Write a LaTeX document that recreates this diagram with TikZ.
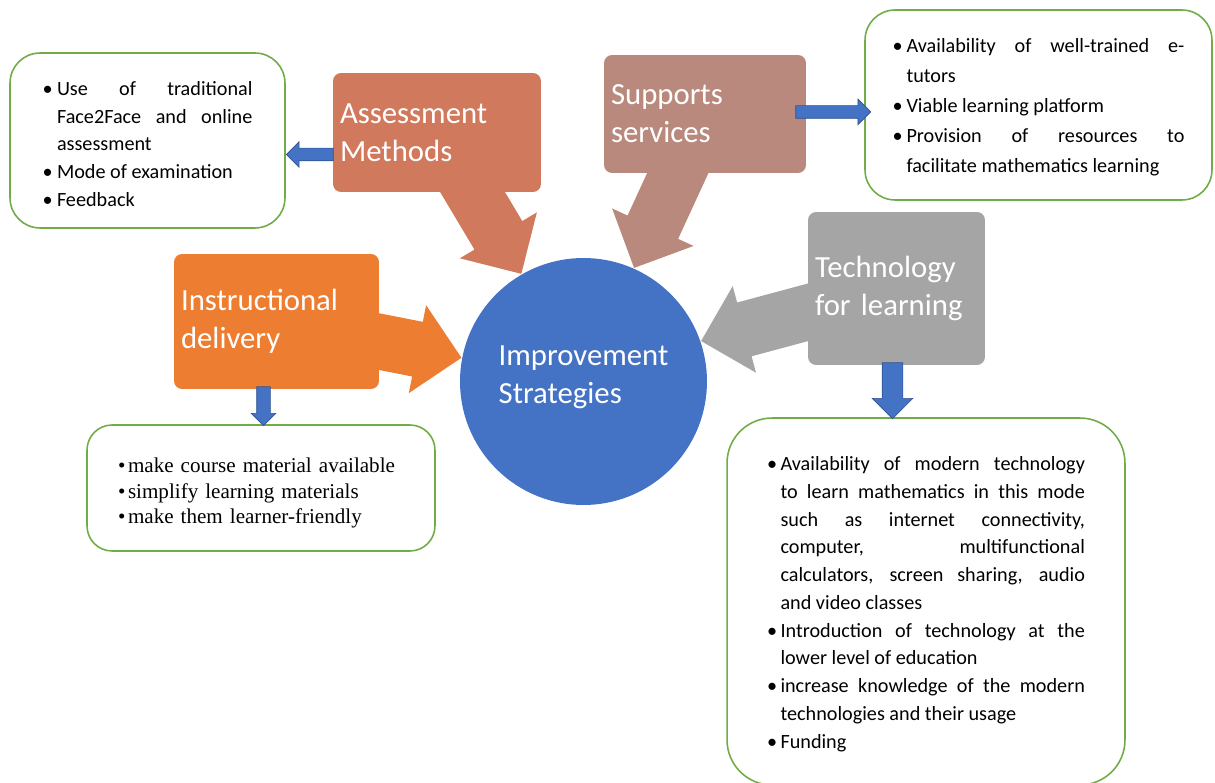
\documentclass[tikz,border=0pt]{standalone}
\usepackage{fontspec}
\setmainfont{Carlito}
\newfontfamily\listserif{Liberation Serif}
\usetikzlibrary{shapes.arrows,calc,backgrounds}

\definecolor{impblue}{HTML}{4472C4}
\definecolor{arrowline}{HTML}{2F528F}
\definecolor{assesscol}{RGB}{209,121,92}
\definecolor{supportcol}{RGB}{185,137,125}
\definecolor{techcol}{HTML}{A5A5A5}
\definecolor{instrcol}{HTML}{ED7D31}
\definecolor{listgreen}{HTML}{70AD47}

% bullet with hanging indent
\newcommand{\litem}[1]{\par\noindent\hangindent=#1\hangafter=1\makebox[#1][l]{\textbullet}\ignorespaces}

% arrow node named #2 running from #3 to #4
\newcommand{\blockarrow}[4][]{%
  \path let \p1=($(#4)-(#3)$), \n1={atan2(\y1,\x1)}, \n2={veclen(\x1,\y1)} in
    node[#1, rotate=\n1, minimum height=\n2, anchor=tip] (#2) at (#4) {};}

\begin{document}
\begin{tikzpicture}[x=0.02cm, y=-0.02cm]
        \tikzstyle{headbox} = [rectangle, rounded corners=0.16cm, text=white, align=left, inner sep=0.14cm, font=\fontsize{17.5}{21.6}\selectfont]
        \tikzstyle{listbox} = [rectangle, draw=listgreen, line width=0.9pt, fill=white, rounded corners=0.6cm, align=justify, font=\fontsize{11.5}{15.8}\selectfont]
        \tikzstyle{bigarrow} = [single arrow, inner xsep=0, inner ysep=0.55cm, single arrow head extend=0.34cm]
        \tikzstyle{bluearrow} = [single arrow, fill=impblue, draw=arrowline, line width=0.4pt, inner xsep=0]

        \useasboundingbox (0,0) rectangle (1215,783);

        \node [circle, fill=impblue, minimum size=4.94cm, text=white, align=left, text depth=0.26cm, font=\fontsize{17.5}{21.6}\selectfont] (imp) at (583.5,381.5) {Improvement\\Strategies};

        \node [headbox, fill=assesscol, minimum height=2.38cm, text width=3.88cm] (assess) at (437,132.5) {Assessment\\Methods};
        \node [headbox, fill=supportcol, minimum height=2.36cm, text width=3.76cm] (support) at (705,114) {Supports\\services};
        \node [headbox, fill=techcol, minimum height=3.06cm, text width=3.26cm] (tech) at (896.5,288.5) {Technology\\for learning};
        \node [headbox, fill=instrcol, minimum height=2.70cm, text width=3.82cm] (instr) at (276.5,321.5) {Instructional\\delivery};

        \node [listbox, minimum width=5.5cm, minimum height=3.5cm, text width=4.2cm] (assesslist) at (147.5,140.5) {%
            \litem{0.29cm} Use of traditional\linebreak Face2Face and online\linebreak assessment
            \litem{0.29cm} Mode of examination
            \litem{0.29cm} Feedback\par\kern0.14cm};
        \node [listbox, minimum width=6.94cm, minimum height=3.8cm, text width=5.84cm, font=\fontsize{11.5}{17}\selectfont] (supportlist) at (1038.5,105) {%
            \litem{0.28cm} Availability of well-trained e-\linebreak tutors
            \litem{0.28cm} Viable learning platform
            \litem{0.28cm} Provision of resources to\linebreak facilitate mathematics learning\par\kern0.23cm};
        \node [listbox, rounded corners=0.9cm, minimum width=7.96cm, minimum height=7.34cm, text width=6.36cm] (techlist) at (926,601.5) {%
            \litem{0.27cm} Availability of modern technology\linebreak to learn mathematics in this mode\linebreak such as internet connectivity,\linebreak computer, multifunctional\linebreak calculators, screen sharing, audio\linebreak and video classes
            \litem{0.27cm} Introduction of technology at the\linebreak lower level of education
            \litem{0.27cm} increase knowledge of the modern\linebreak technologies and their usage
            \litem{0.27cm} Funding\par\kern0.17cm};
        \node [listbox, rounded corners=0.5cm, minimum width=6.96cm, minimum height=2.52cm, text width=5.72cm, align=left, font=\listserif\fontsize{12}{14.5}\selectfont] (instrlist) at (261,488) {%
            \litem{0.2cm} make course material available
            \litem{0.2cm} simplify learning materials
            \litem{0.2cm} make them learner-friendly};

        % big arrows into the circle, behind the boxes
        \begin{pgfonlayer}{background}
            \blockarrow[bigarrow, fill=assesscol]{assessarrow}{assess}{imp.120}
            \blockarrow[bigarrow, fill=supportcol]{supportarrow}{support}{imp.66}
            \blockarrow[bigarrow, fill=techcol]{techarrow}{tech}{imp.19}
            \blockarrow[bigarrow, fill=instrcol]{instrarrow}{instr}{imp.169}
        \end{pgfonlayer}

        % small arrows out to the lists
        \coordinate (a1) at ($(assess.west)+(0,22)$);
        \blockarrow[bluearrow, inner ysep=0.12cm, single arrow head extend=0.13cm]{assesspoint}{a1}{assesslist.east |- a1}
        \coordinate (s1) at ($(support.east)+(-10,-2)$);
        \coordinate (s2) at ($(supportlist.west |- s1)+(7,0)$);
        \blockarrow[bluearrow, inner ysep=0.12cm, single arrow head extend=0.13cm]{supportpoint}{s1}{s2}
        \coordinate (t1) at ($(tech.south)+(-4,-2)$);
        \coordinate (t2) at ($(t1 |- techlist.north)+(0,2)$);
        \blockarrow[bluearrow, inner ysep=0.2cm, single arrow head extend=0.2cm]{techpoint}{t1}{t2}
        \coordinate (i1) at ($(instr.south)+(-13,-2)$);
        \coordinate (i2) at ($(i1 |- instrlist.north)+(0,2)$);
        \blockarrow[bluearrow, inner ysep=0.13cm, single arrow head extend=0.11cm]{instrpoint}{i1}{i2}
\end{tikzpicture}
\end{document}
